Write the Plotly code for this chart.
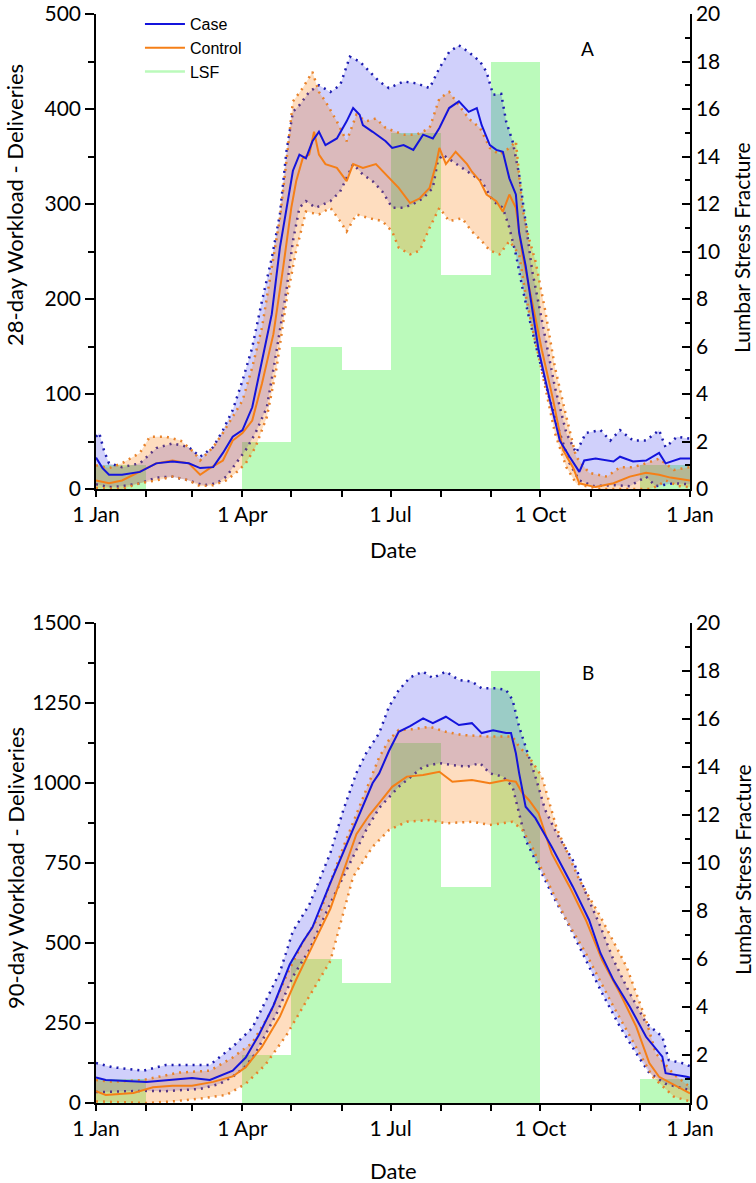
import plotly.graph_objects as go

# ---------------- data ----------------
MONTH_START = [0, 31, 59, 90, 120, 151, 181, 212, 243, 273, 304, 334]
MONTH_LEN = [31, 28, 31, 30, 31, 30, 31, 31, 30, 31, 30, 31]
LSF = [1, 0, 0, 2, 6, 5, 15, 9, 18, 0, 0, 1]

X_TICKVALS = [0, 90, 181, 273, 365]
X_TICKTEXT = ["1 Jan", "1 Apr", "1 Jul", "1 Oct", "1 Jan"]

# ---- Panel A : 28-day workload ----
A_CASE_D = [0, 4, 8, 16, 27, 37, 47, 57, 64, 72, 78, 84, 90, 96, 102, 108, 113, 118, 121, 125, 129, 133, 137, 141, 148, 154, 158, 162, 164, 170, 176, 178, 182, 189, 195, 201, 207, 211, 217, 223, 229, 234, 237, 242, 246, 250, 254, 258, 260, 264, 268, 272, 279, 285, 291, 297, 300, 307, 318, 322, 330, 338, 346, 350, 359, 365]
A_CASE_V = [33, 22, 15, 15, 18, 27, 29, 27, 22, 23, 38, 55, 62, 86, 135, 184, 254, 303, 335, 352, 348, 366, 376, 362, 369, 387, 401, 394, 383, 376, 369, 366, 359, 362, 357, 373, 369, 380, 401, 408, 397, 401, 383, 362, 357, 355, 327, 310, 270, 235, 190, 146, 93, 51, 34, 18, 30, 32, 29, 34, 29, 30, 38, 27, 32, 32]

A_CASE_UP_D = [0, 2, 5, 8, 16, 27, 37, 47, 57, 64, 72, 78, 84, 90, 96, 102, 108, 113, 117, 121, 125, 131, 137, 144, 150, 156, 162, 168, 174, 180, 189, 197, 205, 211, 217, 223, 229, 236, 240, 244, 249, 252, 256, 260, 264, 268, 272, 276, 282, 289, 295, 301, 310, 316, 322, 330, 338, 346, 350, 357, 365]
A_CASE_UP_V = [55, 59, 40, 27, 23, 27, 43, 48, 44, 34, 44, 62, 83, 114, 149, 198, 243, 289, 355, 397, 404, 418, 425, 418, 425, 455, 450, 439, 429, 422, 429, 427, 422, 443, 460, 467, 460, 450, 439, 415, 416, 387, 366, 331, 282, 230, 195, 160, 107, 59, 38, 59, 62, 51, 62, 51, 51, 62, 44, 55, 53]

A_CASE_LO_D = [0, 8, 16, 27, 37, 47, 57, 66, 74, 80, 86, 92, 98, 105, 111, 117, 121, 125, 129, 135, 144, 150, 158, 164, 170, 176, 182, 189, 195, 201, 207, 210, 213, 219, 225, 231, 237, 244, 250, 254, 258, 262, 266, 272, 279, 285, 291, 297, 306, 318, 328, 338, 344, 355, 365]
A_CASE_LO_V = [5, 2, 3, 6, 12, 13, 9, 4, 6, 13, 27, 41, 59, 86, 146, 209, 261, 296, 303, 296, 303, 313, 342, 331, 324, 313, 296, 296, 300, 306, 317, 345, 352, 345, 338, 331, 324, 303, 296, 275, 247, 212, 181, 139, 93, 59, 27, 9, 3, 4, 3, 13, 3, 6, 5]

A_CTRL_D = [0, 8, 16, 27, 37, 47, 57, 64, 70, 78, 84, 90, 96, 102, 109, 115, 120, 123, 127, 131, 134, 137, 141, 148, 154, 158, 164, 172, 178, 180, 186, 193, 199, 205, 209, 211, 215, 221, 228, 231, 236, 240, 246, 250, 254, 258, 262, 268, 274, 281, 287, 293, 297, 307, 318, 328, 338, 346, 353, 365]
A_CTRL_V = [9, 6, 9, 18, 27, 30, 27, 15, 22, 30, 51, 59, 72, 111, 163, 233, 296, 324, 348, 352, 376, 352, 342, 338, 324, 342, 338, 342, 331, 327, 317, 301, 306, 317, 342, 359, 342, 355, 342, 334, 324, 310, 303, 292, 310, 296, 247, 197, 146, 93, 41, 23, 6, 2, 6, 13, 17, 15, 12, 9]

A_CTRL_UP_D = [0, 8, 16, 27, 33, 43, 52, 60, 64, 72, 78, 84, 90, 96, 102, 108, 113, 117, 121, 127, 133, 137, 141, 148, 154, 160, 166, 172, 178, 189, 197, 205, 211, 217, 223, 229, 236, 242, 248, 254, 258, 262, 266, 270, 276, 282, 289, 295, 303, 314, 322, 330, 338, 346, 355, 365]
A_CTRL_UP_V = [25, 22, 27, 38, 55, 55, 51, 39, 30, 44, 59, 76, 93, 128, 170, 233, 285, 345, 408, 422, 439, 418, 408, 387, 366, 394, 387, 390, 380, 373, 373, 380, 411, 418, 404, 390, 380, 359, 352, 359, 366, 296, 264, 240, 188, 128, 76, 34, 17, 13, 23, 23, 27, 32, 20, 23]

A_CTRL_LO_D = [0, 16, 27, 37, 47, 57, 64, 72, 80, 86, 92, 98, 105, 111, 117, 123, 129, 137, 144, 150, 154, 160, 168, 176, 182, 186, 193, 199, 205, 211, 217, 225, 231, 237, 242, 248, 254, 260, 264, 268, 272, 276, 282, 289, 295, 301, 310, 340, 345, 350, 358, 365]
A_CTRL_LO_V = [1, 0, 6, 9, 13, 9, 3, 4, 9, 17, 27, 44, 76, 128, 198, 251, 292, 289, 296, 282, 271, 289, 285, 282, 271, 254, 247, 251, 275, 296, 282, 285, 271, 261, 251, 247, 261, 247, 205, 170, 140, 107, 59, 23, 6, 3, 0, 0, 3, 9, 3, 2]

# ---- Panel B : 90-day workload ----
B_CASE_D = [0, 6, 31, 59, 70, 84, 92, 100, 109, 119, 127, 133, 144, 158, 170, 174, 180, 186, 193, 201, 207, 215, 223, 231, 237, 244, 252, 255, 258, 260, 264, 270, 280, 293, 303, 310, 318, 328, 338, 348, 350, 363, 365]
B_CASE_V = [80, 72, 66, 78, 72, 101, 142, 212, 304, 432, 503, 549, 688, 853, 1000, 1030, 1100, 1160, 1178, 1202, 1187, 1207, 1181, 1187, 1156, 1165, 1156, 1156, 1093, 1031, 926, 890, 801, 676, 572, 468, 384, 301, 207, 145, 93, 82, 80]

B_CASE_UP_D = [0, 10, 29, 43, 70, 84, 96, 104, 113, 121, 131, 144, 152, 160, 166, 174, 180, 186, 193, 201, 207, 215, 223, 231, 237, 246, 252, 256, 260, 264, 270, 276, 283, 293, 301, 310, 318, 328, 338, 348, 352, 360, 365]
B_CASE_UP_V = [125, 112, 101, 119, 119, 176, 234, 316, 409, 537, 619, 781, 916, 1031, 1093, 1156, 1238, 1290, 1330, 1348, 1328, 1348, 1322, 1317, 1296, 1296, 1291, 1259, 1176, 1113, 1020, 916, 843, 759, 656, 551, 447, 343, 250, 207, 134, 125, 115]

B_CASE_LO_D = [0, 29, 43, 64, 76, 84, 92, 98, 111, 121, 131, 144, 158, 166, 174, 186, 201, 211, 219, 228, 236, 242, 250, 256, 260, 264, 270, 280, 291, 301, 311, 322, 332, 340, 350, 365]
B_CASE_LO_V = [34, 38, 37, 44, 60, 82, 115, 155, 280, 395, 478, 624, 770, 853, 922, 988, 1051, 1062, 1056, 1051, 1062, 1030, 1020, 988, 905, 822, 759, 655, 551, 447, 343, 238, 155, 94, 60, 40]

B_CTRL_D = [0, 6, 23, 35, 47, 59, 72, 84, 92, 102, 113, 123, 133, 144, 160, 168, 174, 182, 191, 201, 211, 219, 231, 242, 252, 258, 262, 266, 272, 280, 291, 301, 311, 322, 332, 340, 346, 365]
B_CTRL_V = [37, 25, 31, 49, 54, 54, 66, 83, 112, 176, 270, 386, 491, 607, 840, 900, 937, 988, 1020, 1025, 1035, 1004, 1009, 999, 1009, 1004, 968, 947, 905, 780, 676, 572, 447, 343, 238, 125, 82, 30]

B_CTRL_UP_D = [0, 10, 29, 51, 70, 84, 96, 107, 117, 127, 137, 144, 152, 160, 166, 174, 180, 186, 195, 205, 215, 225, 242, 256, 260, 266, 274, 283, 297, 310, 326, 338, 344, 355, 365]
B_CTRL_UP_V = [72, 66, 72, 95, 101, 142, 188, 281, 398, 502, 583, 690, 800, 900, 980, 1080, 1134, 1166, 1168, 1176, 1160, 1150, 1145, 1145, 1113, 1082, 1020, 860, 697, 582, 426, 259, 155, 90, 50]

B_CTRL_LO_D = [0, 31, 47, 64, 80, 92, 104, 117, 129, 144, 158, 170, 180, 191, 205, 215, 231, 242, 256, 262, 268, 274, 289, 301, 318, 334, 342, 355, 365]
B_CTRL_LO_V = [5, 0, 5, 14, 25, 60, 119, 212, 316, 444, 707, 801, 853, 879, 884, 874, 879, 869, 879, 853, 801, 728, 572, 468, 301, 155, 82, 20, 5]

# ---------------- style ----------------
FONT = "Lato"
CASE_COL = "#1414dc"
CASE_DOT = "#1c1cb0"
CASE_FILL = "rgba(40,40,235,0.22)"
CTRL_COL = "#f57f17"
CTRL_DOT = "#e8822a"
CTRL_FILL = "rgba(250,130,20,0.27)"
LSF_COL = "rgb(187,250,187)"

fig = go.Figure()


def add_panel(xa, ya_bar, ya_line, data):
    (cd, cv, cud, cuv, cld, clv, kd, kv, kud, kuv, kld, klv) = data
    fig.add_trace(go.Bar(x=MONTH_START, y=LSF, width=MONTH_LEN, offset=0,
                         marker=dict(color=LSF_COL, line=dict(width=0)),
                         xaxis=xa, yaxis=ya_bar, showlegend=False, hoverinfo="skip"))
    # case band
    fig.add_trace(go.Scatter(x=cld, y=clv, mode="lines", xaxis=xa, yaxis=ya_line,
                             line=dict(color=CASE_DOT, width=2.5, dash="2px,5px"), showlegend=False))
    fig.add_trace(go.Scatter(x=cud, y=cuv, mode="lines", xaxis=xa, yaxis=ya_line, fill="tonexty",
                             fillcolor=CASE_FILL,
                             line=dict(color=CASE_DOT, width=2.5, dash="2px,5px"), showlegend=False))
    # control band
    fig.add_trace(go.Scatter(x=kld, y=klv, mode="lines", xaxis=xa, yaxis=ya_line,
                             line=dict(color=CTRL_DOT, width=2.5, dash="2px,5px"), showlegend=False))
    fig.add_trace(go.Scatter(x=kud, y=kuv, mode="lines", xaxis=xa, yaxis=ya_line, fill="tonexty",
                             fillcolor=CTRL_FILL,
                             line=dict(color=CTRL_DOT, width=2.5, dash="2px,5px"), showlegend=False))
    # means
    fig.add_trace(go.Scatter(x=kd, y=kv, mode="lines", xaxis=xa, yaxis=ya_line,
                             line=dict(color=CTRL_COL, width=2), showlegend=False))
    fig.add_trace(go.Scatter(x=cd, y=cv, mode="lines", xaxis=xa, yaxis=ya_line,
                             line=dict(color=CASE_COL, width=2), showlegend=False))


add_panel("x", "y", "y2", (A_CASE_D, A_CASE_V, A_CASE_UP_D, A_CASE_UP_V, A_CASE_LO_D, A_CASE_LO_V,
                           A_CTRL_D, A_CTRL_V, A_CTRL_UP_D, A_CTRL_UP_V, A_CTRL_LO_D, A_CTRL_LO_V))
add_panel("x2", "y3", "y4", (B_CASE_D, B_CASE_V, B_CASE_UP_D, B_CASE_UP_V, B_CASE_LO_D, B_CASE_LO_V,
                             B_CTRL_D, B_CTRL_V, B_CTRL_UP_D, B_CTRL_UP_V, B_CTRL_LO_D, B_CTRL_LO_V))

# legend entries (line samples)
for name, col in [("Case", CASE_COL), ("Control", CTRL_COL), ("LSF", LSF_COL)]:
    fig.add_trace(go.Scatter(x=[None], y=[None], mode="lines", name=name,
                             line=dict(color=col, width=2.5 if name == "LSF" else 2),
                             xaxis="x", yaxis="y2"))

W, H = 756, 1183
L, R = 96, 66
TOP, BOT = 14, 80
PW = W - L - R
PH = H - TOP - BOT
A_BOTTOM = (1103 - 489) / PH
B_TOP = (1103 - 623) / PH


def px(xp):
    return (xp - L) / PW


def py(yp):
    return (H - BOT - yp) / PH


FS = 21
tickfont = dict(family=FONT, size=FS, color="black")

xcommon = dict(range=[0, 365], tickmode="array", tickvals=X_TICKVALS, ticktext=X_TICKTEXT,
               ticks="outside", ticklen=6, tickwidth=1.5, tickcolor="black", automargin=False,
               ticklabeloverflow="allow",
               minor=dict(tickmode="array", tickvals=MONTH_START[1:], ticks="outside",
                          ticklen=6, tickwidth=1.5, tickcolor="black"),
               showline=True, linecolor="black", linewidth=1.5, showgrid=False, zeroline=False,
               tickfont=tickfont)

rcommon = dict(range=[0, 20], tickmode="linear", tick0=0, dtick=2, side="right", automargin=False,
               ticklabeloverflow="allow",
               ticks="inside", ticklen=8, tickwidth=1.5, tickcolor="black",
               minor=dict(dtick=1, ticks="inside", ticklen=5, tickwidth=1.5, tickcolor="black"),
               showline=True, linecolor="black", linewidth=1.5, showgrid=False, zeroline=False,
               tickfont=tickfont)

lcommon = dict(side="left", ticks="outside", ticklen=9, tickwidth=1.5, tickcolor="black",
               automargin=False, ticklabeloverflow="allow",
               showline=True, linecolor="black", linewidth=1.5, showgrid=False, zeroline=False,
               tickfont=tickfont)


def title_ann(text, xp, yp, angle=0, size=22):
    return dict(text=text, x=px(xp), y=py(yp), xref="paper", yref="paper", showarrow=False,
                textangle=angle, xanchor="center", yanchor="middle",
                font=dict(family=FONT, size=size, color="black"))


fig.update_layout(
    width=W, height=H,
    margin=dict(l=L, r=R, t=TOP, b=BOT, autoexpand=False),
    paper_bgcolor="white", plot_bgcolor="white",
    barmode="overlay", bargap=0,
    showlegend=True,
    legend=dict(x=0.074, y=py(7), xanchor="left", yanchor="top", bgcolor="rgba(0,0,0,0)",
                font=dict(family="Liberation Sans", size=16, color="black"),
                traceorder="normal", tracegroupgap=0, itemwidth=40),
    xaxis=dict(domain=[0, 1], anchor="y", **xcommon),
    xaxis2=dict(domain=[0, 1], anchor="y3", **xcommon),
    yaxis=dict(domain=[A_BOTTOM, 1], anchor="x", **rcommon),
    yaxis2=dict(overlaying="y", anchor="x", range=[0, 500], dtick=100, tick0=0,
                minor=dict(dtick=50, ticks="outside", ticklen=6, tickwidth=1.5, tickcolor="black"),
                **lcommon),
    yaxis3=dict(domain=[0, B_TOP], anchor="x2", **rcommon),
    yaxis4=dict(overlaying="y3", anchor="x2", range=[0, 1500], dtick=250, tick0=0,
                minor=dict(dtick=125, ticks="outside", ticklen=6, tickwidth=1.5, tickcolor="black"),
                **lcommon),
    annotations=[
        title_ann("28-day Workload - Deliveries", 15, 205, -90),
        title_ann("Lumbar Stress Fracture", 742, 248, -90, 21),
        title_ann("Date", 393, 549),
        title_ann("90-day Workload - Deliveries", 15, 868, -90),
        title_ann("Lumbar Stress Fracture", 742, 870, -90, 21),
        title_ann("Date", 393, 1170),
        dict(text="A", x=px(596), y=py(35), xref="paper", yref="paper",
             showarrow=False, font=dict(family=FONT, size=19, color="black")),
        dict(text="B", x=px(596), y=py(672), xref="paper", yref="paper",
             showarrow=False, font=dict(family=FONT, size=19, color="black")),
    ],
)

# the page's default 8px body margin would shift the whole figure; remove it
fig.write_html("out.html", config={"displayModeBar": False},
               post_script="document.body.style.margin='0';")
